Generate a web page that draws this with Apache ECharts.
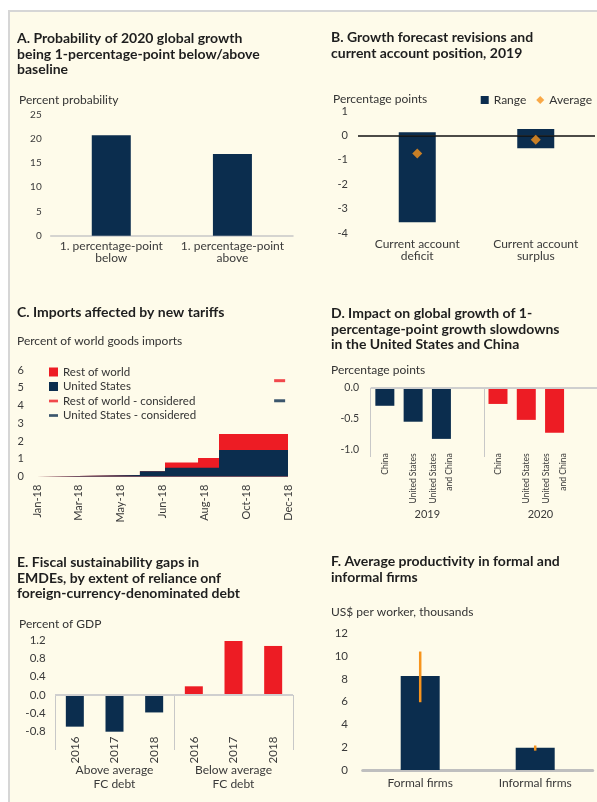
<!DOCTYPE html>
<html>
<head>
<meta charset="utf-8">
<script src="https://cdn.jsdelivr.net/npm/echarts@6/dist/echarts.min.js"></script>
<style>
    html, body { margin: 0; padding: 0; background: #fff; }
    #panel {
        position: absolute; left: 8px; top: 10px; width: 589px; height: 792px;
        background: #fefbea; border-left: 2px solid #d6d6d6; border-top: 2px solid #d6d6d6;
        box-sizing: border-box;
    }
    #chart { position: absolute; left: 0; top: 0; width: 597px; height: 802px; }
</style>
</head>
<body>
<div id="panel"></div>
<div id="chart"></div>
<script>
    // A. probability of 1pp below / above baseline
    const aCats = ['1. percentage-point\nbelow', '1. percentage-point\nabove'];
    const aVals = [20.7, 16.8];

    // B. range and average of forecast revisions
    const bCats = ['Current account\ndeficit', 'Current account\nsurplus'];
    const bLow = [-3.55, -0.52];
    const bHigh = [0.13, 0.26];
    const bAvg = [-0.74, -0.18];

    // C. imports affected by tariffs (x in tick-label steps)
    const cTickLabels = ['Jan-18', 'Mar-18', 'May-18', 'Jun-18', 'Aug-18', 'Oct-18', 'Dec-18'];
    const cSteps = [0, 1.31, 1.31, 2.46, 2.46, 3.06, 3.06, 3.85, 3.85, 4.35, 4.35, 6];
    const cUS = [0, 0.05, 0.08, 0.1, 0.3, 0.3, 0.5, 0.5, 0.5, 0.5, 1.5, 1.5];
    const cRoW = [0, 0, 0, 0, 0, 0, 0.3, 0.3, 0.55, 0.55, 0.9, 0.9];
    const cConsideredX = 5.8;
    const cRoWConsidered = 5.4;
    const cUSConsidered = 4.27;

    // D. impact of slowdowns
    const dCats = ['China', 'United States', 'United States\nand China', '', 'China', 'United States', 'United States\nand China', ''];
    const dGroups = ['2019', '2020'];
    const d2019 = [-0.29, -0.55, -0.83];
    const d2020 = [-0.26, -0.52, -0.73];

    // E. fiscal sustainability gaps
    const eCats = ['2016', '2017', '2018', '2016', '2017', '2018'];
    const eGroups = ['Above average\nFC debt', 'Below average\nFC debt'];
    const eAbove = [-0.69, -0.81, -0.38];
    const eBelow = [0.19, 1.18, 1.07];

    // F. productivity
    const fCats = ['Formal firms', 'Informal firms'];
    const fVals = [8.25, 1.95];
    const fErrLow = [5.95, 1.7];
    const fErrHigh = [10.4, 2.15];

    const NAVY = '#0b2d4e';
    const RED = '#ed1c24';
    const ORANGE = '#f7941d';
    const FONT = 'Lato, "Open Sans", sans-serif';
    const TXT = '#3a3a3a';

    let myChart = echarts.init(document.getElementById('chart'));

    const titleStyle = { fontFamily: FONT, fontSize: 14, fontWeight: 'bold', color: '#1e1e1e', lineHeight: 15.5 };
    const unitStyle = { fontFamily: FONT, fontSize: 12, fontWeight: 'normal', color: '#333' };
    const tickLabel = { fontFamily: FONT, fontSize: 11, color: TXT };

    function valueAxis(grid, min, max, interval, margin, size, fmt) {
        return {
            type: 'value', gridIndex: grid, min: min, max: max, interval: interval,
            axisLine: { show: false }, axisTick: { show: false }, splitLine: { show: false },
            axisLabel: Object.assign({}, tickLabel, { margin: margin, fontSize: size, formatter: fmt })
        };
    }
    const oneDec = v => (Math.abs(v) < 1e-9 ? 0 : v).toFixed(1);
    const zeroLine = (color, width) => ({
        silent: true, symbol: 'none', label: { show: false },
        lineStyle: { color: color, width: width, type: 'solid' },
        data: [{ yAxis: 0 }]
    });
    const dashIcon = 'path://M0,0 M0,3.5L10,3.5L10,6.5L0,6.5Z M10,10';

    let option = {
        animation: false,
        textStyle: { fontFamily: FONT },
        title: [
            { text: 'A. Probability of 2020 global growth\nbeing 1-percentage-point below/above\nbaseline', left: 17, top: 31, padding: 0, textStyle: titleStyle },
            { text: 'B. Growth forecast revisions and\ncurrent account position, 2019', left: 331, top: 30, padding: 0, textStyle: titleStyle },
            { text: 'C. Imports affected by new tariffs', left: 17, top: 305, padding: 0, textStyle: titleStyle },
            { text: 'D. Impact on global growth of 1-\npercentage-point growth slowdowns\nin the United States and China', left: 331, top: 306, padding: 0, textStyle: titleStyle },
            { text: 'E. Fiscal sustainability gaps in\nEMDEs, by extent of reliance onf\nforeign-currency-denominated debt', left: 17, top: 555, padding: 0, textStyle: titleStyle },
            { text: 'F. Average productivity in formal and\ninformal firms', left: 331, top: 554, padding: 0, textStyle: titleStyle },
            { text: 'Percent probability', left: 19, top: 94, padding: 0, textStyle: unitStyle },
            { text: 'Percentage points', left: 333, top: 93, padding: 0, textStyle: unitStyle },
            { text: 'Percent of world goods imports', left: 17, top: 335, padding: 0, textStyle: unitStyle },
            { text: 'Percentage points', left: 331, top: 364, padding: 0, textStyle: unitStyle },
            { text: 'Percent of GDP', left: 19, top: 618, padding: 0, textStyle: unitStyle },
            { text: 'US$ per worker, thousands', left: 331, top: 606, padding: 0, textStyle: unitStyle }
        ],
        legend: [
            {
                data: [{ name: 'Range', icon: 'rect' }, { name: 'Average', icon: 'diamond' }],
                right: 5, top: 94, itemWidth: 8, itemHeight: 8, itemGap: 10, padding: 0,
                textStyle: { fontFamily: FONT, fontSize: 12, color: '#333' }
            },
            {
                data: [
                    { name: 'Rest of world', icon: 'rect' },
                    { name: 'United States', icon: 'rect' },
                    { name: 'Rest of world - considered', icon: dashIcon },
                    { name: 'United States - considered', icon: dashIcon }
                ],
                orient: 'vertical', left: 49, top: 366, itemWidth: 9, itemHeight: 9, itemGap: 2.5, padding: 0,
                textStyle: { fontFamily: FONT, fontSize: 11.5, color: '#333' }
            }
        ],
        grid: [
            { left: 50.7, right: 304, top: 114.3, bottom: 566.3 },
            { left: 358, right: 2, top: 111, bottom: 568.7 },
            { left: 37, right: 309, top: 370, bottom: 325.3 },
            { left: 370.7, right: 0, top: 388, bottom: 352.7 },
            { left: 55, right: 304, top: 640, bottom: 70.3 },
            { left: 362.7, right: 4.3, top: 633.3, bottom: 32 }
        ],
        xAxis: [
            {
                type: 'category', gridIndex: 0, data: aCats,
                axisLine: { lineStyle: { color: '#c8c8c8', width: 1.5 } }, axisTick: { show: false },
                axisLabel: Object.assign({}, tickLabel, { fontSize: 12, margin: 5, lineHeight: 11.5, interval: 0 })
            },
            {
                type: 'category', gridIndex: 1, data: bCats,
                axisLine: { show: false }, axisTick: { show: false },
                axisLabel: Object.assign({}, tickLabel, { fontSize: 12, margin: 5, lineHeight: 12, interval: 0 })
            },
            {
                type: 'value', gridIndex: 2, min: 0, max: 6, interval: 1,
                axisLine: { show: false }, axisTick: { show: false }, splitLine: { show: false },
                axisLabel: Object.assign({}, tickLabel, { rotate: 90, margin: 8, formatter: v => cTickLabels[v] })
            },
            {
                type: 'category', gridIndex: 3, data: dCats,
                axisLine: { show: false, onZero: false }, axisTick: { show: false },
                axisLabel: Object.assign({}, tickLabel, { fontSize: 8.5, rotate: 90, margin: 4, interval: 0, lineHeight: 16.5 })
            },
            {
                type: 'category', gridIndex: 3, data: dGroups, position: 'bottom', offset: 4,
                axisLine: { show: false }, axisTick: { show: true, length: 69, interval: 0, lineStyle: { color: '#c8c8c8' } },
                axisLabel: Object.assign({}, tickLabel, { margin: 56 })
            },
            {
                type: 'category', gridIndex: 4, data: eCats,
                axisLine: { show: false, onZero: false }, axisTick: { show: false },
                axisLabel: Object.assign({}, tickLabel, { fontSize: 11.5, rotate: 90, margin: 5, interval: 0 })
            },
            {
                type: 'category', gridIndex: 4, data: eGroups, position: 'bottom', offset: 3,
                axisLine: { show: false }, axisTick: { show: true, length: 55, interval: 0, lineStyle: { color: '#c8c8c8' } },
                axisLabel: Object.assign({}, tickLabel, { fontSize: 12, margin: 29, lineHeight: 13.5 })
            },
            {
                type: 'category', gridIndex: 5, data: fCats,
                axisLine: { lineStyle: { color: '#bfbfbf', width: 3 } }, axisTick: { show: false },
                axisLabel: Object.assign({}, tickLabel, { fontSize: 12, margin: 7, interval: 0 })
            }
        ],
        yAxis: [
            valueAxis(0, 0, 25, 5, 9, 10),
            valueAxis(1, -4, 1, 1, 10, 11),
            valueAxis(2, 0, 6, 1, 13, 11),
            valueAxis(3, -1, 0, 0.5, 11.7, 10.5, oneDec),
            valueAxis(4, -0.8, 1.2, 0.4, 9.3, 11.5, oneDec),
            valueAxis(5, 0, 12, 2, 14.7, 11.5)
        ],
        series: [
            // A
            {
                type: 'bar', xAxisIndex: 0, yAxisIndex: 0, data: aVals, barWidth: 39,
                itemStyle: { color: NAVY }
            },
            // B
            {
                name: 'Range', type: 'bar', xAxisIndex: 1, yAxisIndex: 1, stack: 'rng', data: bLow, barWidth: 37,
                itemStyle: { color: NAVY }, markLine: zeroLine('#111', 1.5)
            },
            {
                name: 'Range', type: 'bar', xAxisIndex: 1, yAxisIndex: 1, stack: 'rng', data: bHigh, barWidth: 37,
                itemStyle: { color: NAVY }
            },
            {
                name: 'Average', type: 'scatter', xAxisIndex: 1, yAxisIndex: 1, data: bAvg,
                symbol: 'diamond', symbolSize: 10, itemStyle: { color: ORANGE }, z: 5
            },
            // C
            {
                name: 'Rest of world', type: 'line', xAxisIndex: 2, yAxisIndex: 2,
                data: cSteps.map((x, i) => [x, cUS[i] + cRoW[i]]),
                showSymbol: false, lineStyle: { width: 0 }, itemStyle: { color: RED },
                areaStyle: { color: RED, opacity: 1 }
            },
            {
                name: 'United States', type: 'line', xAxisIndex: 2, yAxisIndex: 2,
                data: cSteps.map((x, i) => [x, cUS[i]]),
                showSymbol: false, lineStyle: { width: 0 }, itemStyle: { color: NAVY },
                areaStyle: { color: NAVY, opacity: 1 }
            },
            {
                name: 'Rest of world - considered', type: 'scatter', xAxisIndex: 2, yAxisIndex: 2,
                data: [[cConsideredX, cRoWConsidered]], symbol: 'rect', symbolSize: [11, 3],
                itemStyle: { color: RED }
            },
            {
                name: 'United States - considered', type: 'scatter', xAxisIndex: 2, yAxisIndex: 2,
                data: [[cConsideredX, cUSConsidered]], symbol: 'rect', symbolSize: [11, 3],
                itemStyle: { color: NAVY }
            },
            // D
            {
                type: 'bar', xAxisIndex: 3, yAxisIndex: 3, barWidth: 19, barGap: '-100%',
                data: dCats.map((c, i) => (i < 3 ? d2019[i] : '-')),
                itemStyle: { color: NAVY }, markLine: zeroLine('#cfcfcf', 2)
            },
            {
                type: 'bar', xAxisIndex: 3, yAxisIndex: 3, barWidth: 19, barGap: '-100%',
                data: dCats.map((c, i) => (i >= 4 && i < 7 ? d2020[i - 4] : '-')),
                itemStyle: { color: RED }
            },
            // E
            {
                type: 'bar', xAxisIndex: 5, yAxisIndex: 4, barWidth: 18, barGap: '-100%',
                data: eCats.map((c, i) => (i < 3 ? eAbove[i] : '-')),
                itemStyle: { color: NAVY }, markLine: zeroLine('#cfcfcf', 2)
            },
            {
                type: 'bar', xAxisIndex: 5, yAxisIndex: 4, barWidth: 18, barGap: '-100%',
                data: eCats.map((c, i) => (i >= 3 ? eBelow[i - 3] : '-')),
                itemStyle: { color: RED }
            },
            // F
            {
                type: 'bar', xAxisIndex: 7, yAxisIndex: 5, data: fVals, barWidth: 39,
                itemStyle: { color: NAVY }
            },
            {
                type: 'custom', xAxisIndex: 7, yAxisIndex: 5, z: 5,
                data: fCats.map((c, i) => [i, fErrLow[i], fErrHigh[i]]),
                renderItem: function (params, api) {
                    const lo = api.coord([api.value(0), api.value(1)]);
                    const hi = api.coord([api.value(0), api.value(2)]);
                    return {
                        type: 'line',
                        shape: { x1: lo[0], y1: lo[1], x2: hi[0], y2: hi[1] },
                        style: { stroke: ORANGE, lineWidth: 2.5 }
                    };
                }
            }
        ]
    };
    myChart.setOption(option);
</script>
</body>
</html>
